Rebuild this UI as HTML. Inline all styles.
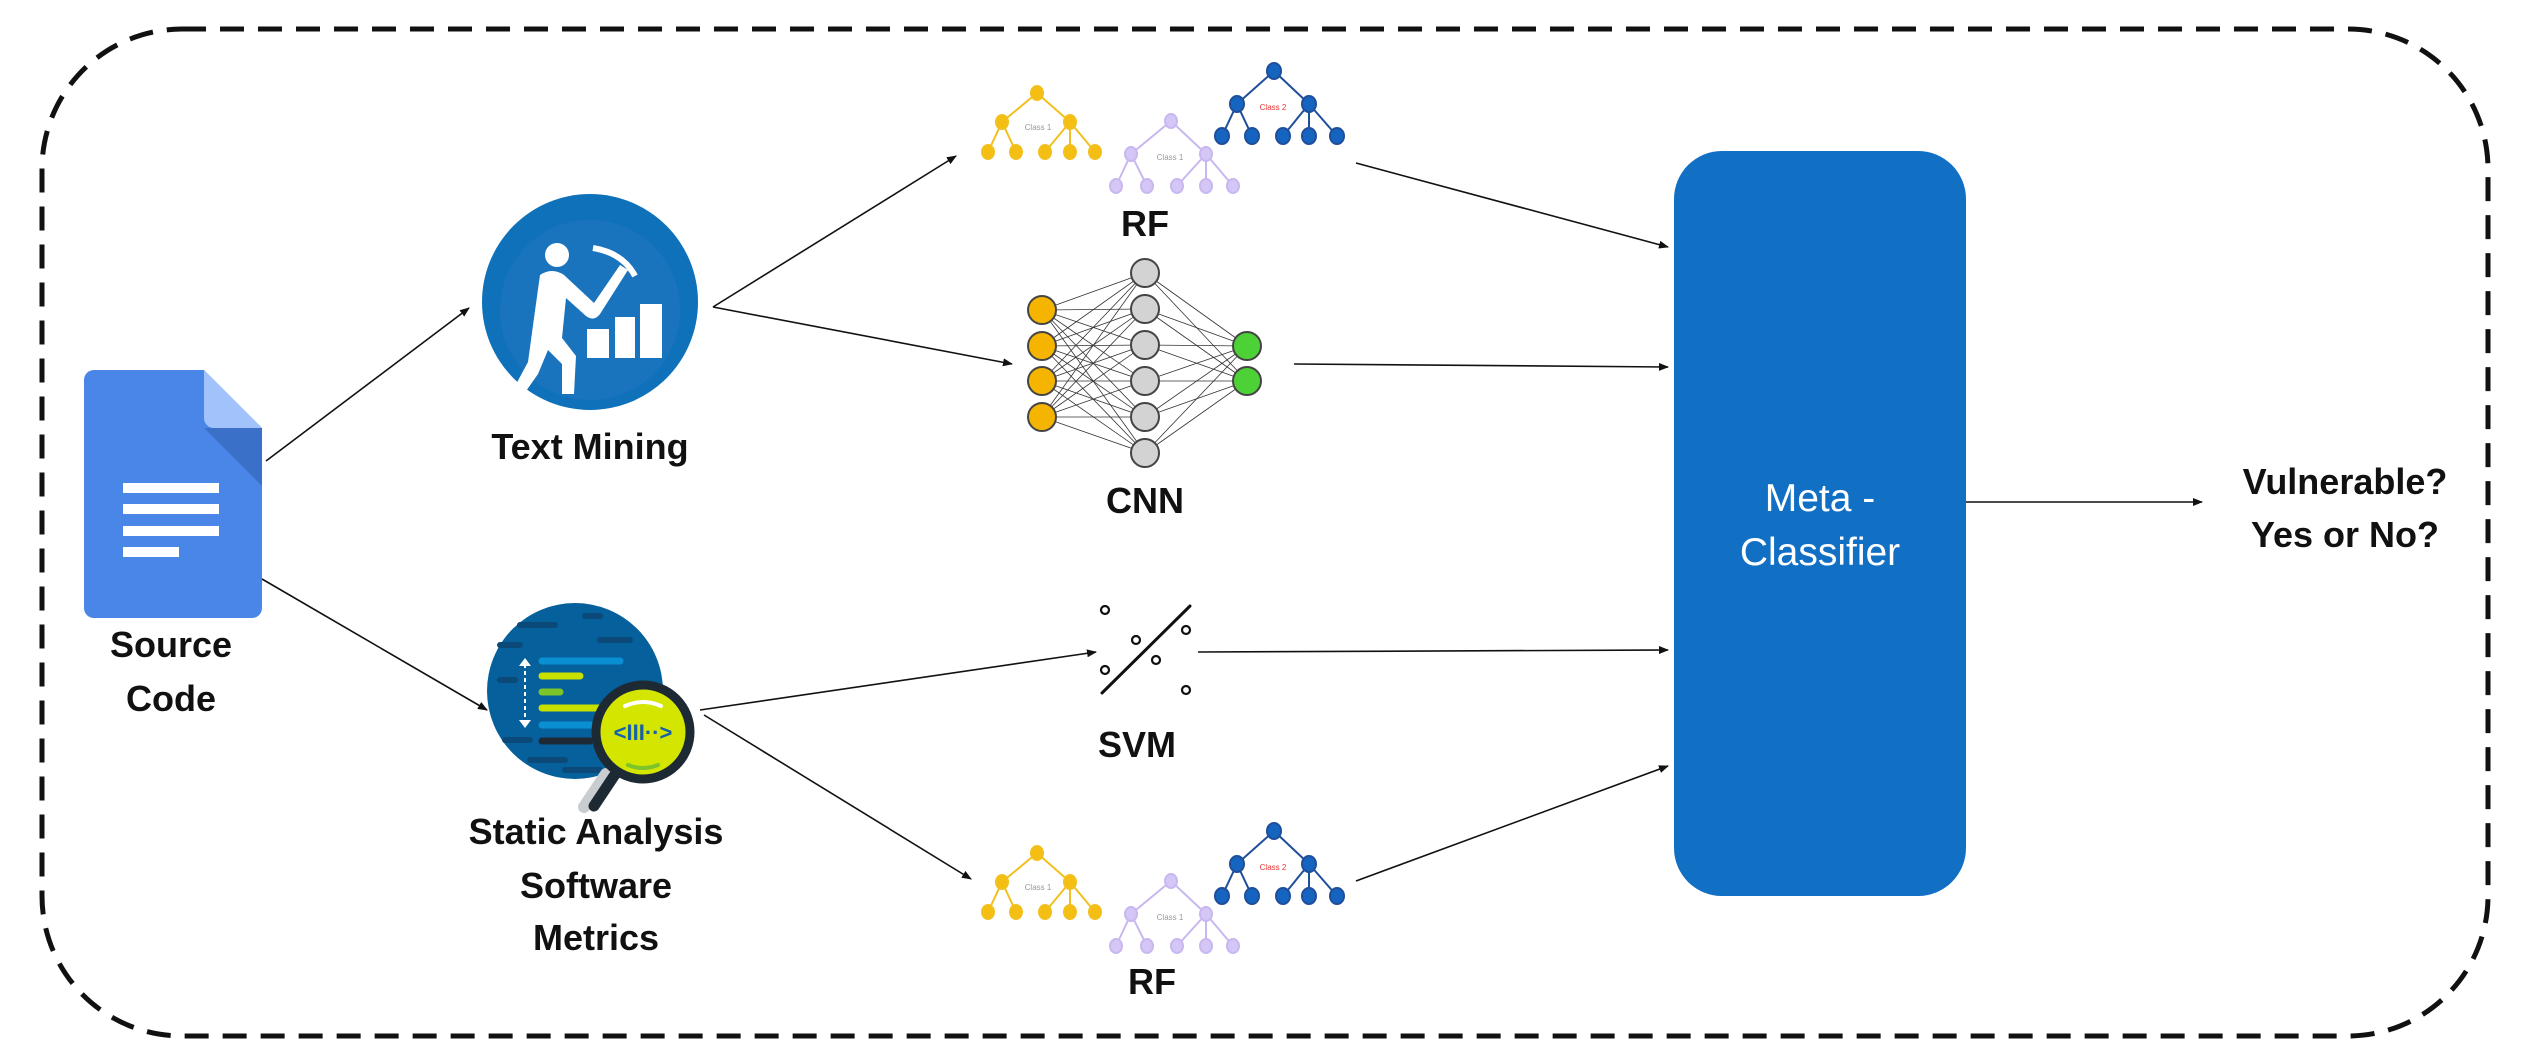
<!DOCTYPE html>
<html><head><meta charset="utf-8"><style>
html,body{margin:0;padding:0;background:#fff;}
svg{display:block;}
text{font-family:"Liberation Sans",sans-serif;}
.lb{font-weight:bold;font-size:36px;fill:#111;text-anchor:middle;}
</style></head><body>
<svg width="2524" height="1062" viewBox="0 0 2524 1062" xmlns="http://www.w3.org/2000/svg">
<defs>
<marker id="ar" markerWidth="10" markerHeight="8" refX="9" refY="4" orient="auto" markerUnits="userSpaceOnUse">
<path d="M0,0 L10,4 L0,8 z" fill="#111"/></marker>
<g id="trees">
 <g stroke="#f2c01e" stroke-width="2" fill="#f5be12">
  <line x1="1037" y1="93" x2="1002" y2="122"/><line x1="1037" y1="93" x2="1070" y2="122"/>
  <line x1="1002" y1="122" x2="988" y2="152"/><line x1="1002" y1="122" x2="1016" y2="152"/>
  <line x1="1070" y1="122" x2="1045" y2="152"/><line x1="1070" y1="122" x2="1070" y2="152"/><line x1="1070" y1="122" x2="1095" y2="152"/>
  <ellipse cx="1037" cy="93" rx="6" ry="7"/><ellipse cx="1002" cy="122" rx="6" ry="7"/><ellipse cx="1070" cy="122" rx="6" ry="7"/>
  <ellipse cx="988" cy="152" rx="6" ry="7"/><ellipse cx="1016" cy="152" rx="6" ry="7"/><ellipse cx="1045" cy="152" rx="6" ry="7"/><ellipse cx="1070" cy="152" rx="6" ry="7"/><ellipse cx="1095" cy="152" rx="6" ry="7"/>
 </g>
 <text x="1038" y="130" font-size="8" fill="#999" text-anchor="middle">Class 1</text>
 <g stroke="#c9b8f0" stroke-width="2" fill="#d4c6f5">
  <line x1="1171" y1="121" x2="1131" y2="154"/><line x1="1171" y1="121" x2="1206" y2="154"/>
  <line x1="1131" y1="154" x2="1116" y2="186"/><line x1="1131" y1="154" x2="1147" y2="186"/>
  <line x1="1206" y1="154" x2="1177" y2="186"/><line x1="1206" y1="154" x2="1206" y2="186"/><line x1="1206" y1="154" x2="1233" y2="186"/>
  <ellipse cx="1171" cy="121" rx="6" ry="7"/><ellipse cx="1131" cy="154" rx="6" ry="7"/><ellipse cx="1206" cy="154" rx="6" ry="7"/>
  <ellipse cx="1116" cy="186" rx="6" ry="7"/><ellipse cx="1147" cy="186" rx="6" ry="7"/><ellipse cx="1177" cy="186" rx="6" ry="7"/><ellipse cx="1206" cy="186" rx="6" ry="7"/><ellipse cx="1233" cy="186" rx="6" ry="7"/>
 </g>
 <text x="1170" y="160" font-size="8" fill="#999" text-anchor="middle">Class 1</text>
 <g stroke="#1f4e9a" stroke-width="2" fill="#1565c0">
  <line x1="1274" y1="71" x2="1237" y2="104"/><line x1="1274" y1="71" x2="1309" y2="104"/>
  <line x1="1237" y1="104" x2="1222" y2="136"/><line x1="1237" y1="104" x2="1252" y2="136"/>
  <line x1="1309" y1="104" x2="1283" y2="136"/><line x1="1309" y1="104" x2="1309" y2="136"/><line x1="1309" y1="104" x2="1337" y2="136"/>
  <ellipse cx="1274" cy="71" rx="7" ry="8"/><ellipse cx="1237" cy="104" rx="7" ry="8"/><ellipse cx="1309" cy="104" rx="7" ry="8"/>
  <ellipse cx="1222" cy="136" rx="7" ry="8"/><ellipse cx="1252" cy="136" rx="7" ry="8"/><ellipse cx="1283" cy="136" rx="7" ry="8"/><ellipse cx="1309" cy="136" rx="7" ry="8"/><ellipse cx="1337" cy="136" rx="7" ry="8"/>
 </g>
 <text x="1273" y="110" font-size="8" fill="#e33" text-anchor="middle">Class 2</text>
</g>
</defs>

<rect x="42" y="29" width="2446" height="1007" rx="140" ry="140" fill="none" stroke="#111" stroke-width="5" stroke-dasharray="24 14"/>

<path d="M84,380 a10,10 0 0 1 10,-10 h110 l58,58 v180 a10,10 0 0 1 -10,10 h-158 a10,10 0 0 1 -10,-10 z" fill="#4a86e8"/>
<path d="M204,428 l58,58 v-58 z" fill="#3b70c8"/>
<path d="M204,370 v48 a10,10 0 0 0 10,10 h48 z" fill="#a1c2fa"/>
<g fill="#fff"><rect x="123" y="483" width="96" height="10"/><rect x="123" y="504" width="96" height="10"/><rect x="123" y="526" width="96" height="10"/><rect x="123" y="547" width="56" height="10"/></g>
<text class="lb" x="171" y="657">Source</text>
<text class="lb" x="171" y="711">Code</text>

<circle cx="590" cy="302" r="108" fill="#0f71ba"/>
<circle cx="590" cy="310" r="90" fill="#1a74bd"/>
<g fill="#fff">
<circle cx="557" cy="255" r="12"/>
<path d="M540,275 q12,-8 24,0 l30,28 l26,-38 l8,5 l-28,44 q-6,8 -14,2 l-20,-18 l-4,40 l14,18 l-2,38 l-12,0 l0,-30 l-14,-14 l-10,24 l-14,20 l-10,-6 l14,-26 l6,-44 z"/>
<rect x="587" y="329" width="22" height="29"/><rect x="615" y="317" width="20" height="41"/><rect x="640" y="304" width="22" height="54"/>
</g>
<path d="M593,248 q30,5 42,28" stroke="#fff" stroke-width="6" fill="none"/>
<text class="lb" x="590" y="459">Text Mining</text>

<circle cx="575" cy="691" r="88" fill="#06609c"/>
<g stroke="#0b4a78" stroke-width="6" stroke-linecap="round">
<line x1="520" y1="625" x2="555" y2="625"/><line x1="585" y1="616" x2="600" y2="616"/><line x1="500" y1="645" x2="520" y2="645"/><line x1="600" y1="640" x2="630" y2="640"/><line x1="500" y1="680" x2="515" y2="680"/><line x1="505" y1="740" x2="530" y2="740"/><line x1="530" y1="760" x2="565" y2="760"/><line x1="565" y1="770" x2="600" y2="770"/>
</g>
<g stroke-width="7" stroke-linecap="round">
<line x1="542" y1="661" x2="620" y2="661" stroke="#0a8fd3"/>
<line x1="542" y1="676" x2="580" y2="676" stroke="#c7e000"/>
<line x1="542" y1="692" x2="560" y2="692" stroke="#7cc42a"/>
<line x1="542" y1="708" x2="600" y2="708" stroke="#c7e000"/>
<line x1="542" y1="725" x2="600" y2="725" stroke="#0a8fd3"/>
<line x1="542" y1="741" x2="590" y2="741" stroke="#1e2a33"/>
</g>
<line x1="525" y1="664" x2="525" y2="722" stroke="#fff" stroke-width="2" stroke-dasharray="4 3"/>
<path d="M519,666 l6,-8 l6,8z M519,720 l6,8 l6,-8z" fill="#fff"/>
<line x1="612" y1="772" x2="590" y2="805" stroke="#c9ccd0" stroke-width="12" stroke-linecap="round" transform="translate(-6,2)"/>
<line x1="618" y1="770" x2="594" y2="806" stroke="#1e2a33" stroke-width="11" stroke-linecap="round"/>
<circle cx="643" cy="732" r="47" fill="#d4e600" stroke="#1e2a33" stroke-width="9"/>
<path d="M625,706 q18,-8 36,0" stroke="#fff" stroke-width="4" fill="none" stroke-linecap="round"/>
<path d="M628,765 q15,6 30,0" stroke="#7cc42a" stroke-width="4" fill="none" stroke-linecap="round"/>
<text x="643" y="740" font-size="22" font-weight="bold" fill="#1560a8" text-anchor="middle">&lt;III··&gt;</text>
<text class="lb" x="596" y="844">Static Analysis</text>
<text class="lb" x="596" y="898">Software</text>
<text class="lb" x="596" y="950">Metrics</text>

<g stroke="#111" stroke-width="1.6" fill="none" marker-end="url(#ar)">
<line x1="266" y1="461" x2="469" y2="308"/>
<line x1="262" y1="579" x2="487" y2="710"/>
<line x1="713" y1="307" x2="956" y2="156"/>
<line x1="713" y1="307" x2="1012" y2="364"/>
<line x1="700" y1="710" x2="1096" y2="652"/>
<line x1="704" y1="715" x2="971" y2="879"/>
<line x1="1356" y1="163" x2="1668" y2="247"/>
<line x1="1294" y1="364" x2="1668" y2="367"/>
<line x1="1198" y1="652" x2="1668" y2="650"/>
<line x1="1356" y1="881" x2="1668" y2="766"/>
<line x1="1966" y1="502" x2="2202" y2="502"/>
</g>

<use href="#trees"/>
<use href="#trees" transform="translate(0,760)"/>
<text class="lb" x="1145" y="236">RF</text>
<text class="lb" x="1152" y="994">RF</text>

<g stroke="#333" stroke-width="0.8">
<line x1="1042" y1="310" x2="1145" y2="273"/><line x1="1042" y1="310" x2="1145" y2="309"/><line x1="1042" y1="310" x2="1145" y2="345"/><line x1="1042" y1="310" x2="1145" y2="381"/><line x1="1042" y1="310" x2="1145" y2="417"/><line x1="1042" y1="310" x2="1145" y2="453"/>
<line x1="1042" y1="346" x2="1145" y2="273"/><line x1="1042" y1="346" x2="1145" y2="309"/><line x1="1042" y1="346" x2="1145" y2="345"/><line x1="1042" y1="346" x2="1145" y2="381"/><line x1="1042" y1="346" x2="1145" y2="417"/><line x1="1042" y1="346" x2="1145" y2="453"/>
<line x1="1042" y1="381" x2="1145" y2="273"/><line x1="1042" y1="381" x2="1145" y2="309"/><line x1="1042" y1="381" x2="1145" y2="345"/><line x1="1042" y1="381" x2="1145" y2="381"/><line x1="1042" y1="381" x2="1145" y2="417"/><line x1="1042" y1="381" x2="1145" y2="453"/>
<line x1="1042" y1="417" x2="1145" y2="273"/><line x1="1042" y1="417" x2="1145" y2="309"/><line x1="1042" y1="417" x2="1145" y2="345"/><line x1="1042" y1="417" x2="1145" y2="381"/><line x1="1042" y1="417" x2="1145" y2="417"/><line x1="1042" y1="417" x2="1145" y2="453"/>
<line x1="1247" y1="346" x2="1145" y2="273"/><line x1="1247" y1="346" x2="1145" y2="309"/><line x1="1247" y1="346" x2="1145" y2="345"/><line x1="1247" y1="346" x2="1145" y2="381"/><line x1="1247" y1="346" x2="1145" y2="417"/><line x1="1247" y1="346" x2="1145" y2="453"/>
<line x1="1247" y1="381" x2="1145" y2="273"/><line x1="1247" y1="381" x2="1145" y2="309"/><line x1="1247" y1="381" x2="1145" y2="345"/><line x1="1247" y1="381" x2="1145" y2="381"/><line x1="1247" y1="381" x2="1145" y2="417"/><line x1="1247" y1="381" x2="1145" y2="453"/>
</g>
<g stroke="#444" stroke-width="2">
<g fill="#f5b400"><circle cx="1042" cy="310" r="14"/><circle cx="1042" cy="346" r="14"/><circle cx="1042" cy="381" r="14"/><circle cx="1042" cy="417" r="14"/></g>
<g fill="#d3d3d3"><circle cx="1145" cy="273" r="14"/><circle cx="1145" cy="309" r="14"/><circle cx="1145" cy="345" r="14"/><circle cx="1145" cy="381" r="14"/><circle cx="1145" cy="417" r="14"/><circle cx="1145" cy="453" r="14"/></g>
<g fill="#4cd137"><circle cx="1247" cy="346" r="14"/><circle cx="1247" cy="381" r="14"/></g>
</g>
<text class="lb" x="1145" y="513">CNN</text>

<line x1="1102" y1="693" x2="1190" y2="606" stroke="#111" stroke-width="3" stroke-linecap="round"/>
<g fill="none" stroke="#111" stroke-width="2.2">
<circle cx="1105" cy="610" r="4"/><circle cx="1136" cy="640" r="4"/><circle cx="1156" cy="660" r="4"/><circle cx="1105" cy="670" r="4"/><circle cx="1186" cy="630" r="4"/><circle cx="1186" cy="690" r="4"/>
</g>
<text class="lb" x="1137" y="757">SVM</text>

<rect x="1674" y="151" width="292" height="745" rx="48" ry="48" fill="#116fc4"/>
<text x="1820" y="511" font-size="39" fill="#fff" text-anchor="middle">Meta -</text>
<text x="1820" y="565" font-size="39" fill="#fff" text-anchor="middle">Classifier</text>

<text class="lb" x="2345" y="494">Vulnerable?</text>
<text class="lb" x="2345" y="547">Yes or No?</text>
</svg>
</body></html>
